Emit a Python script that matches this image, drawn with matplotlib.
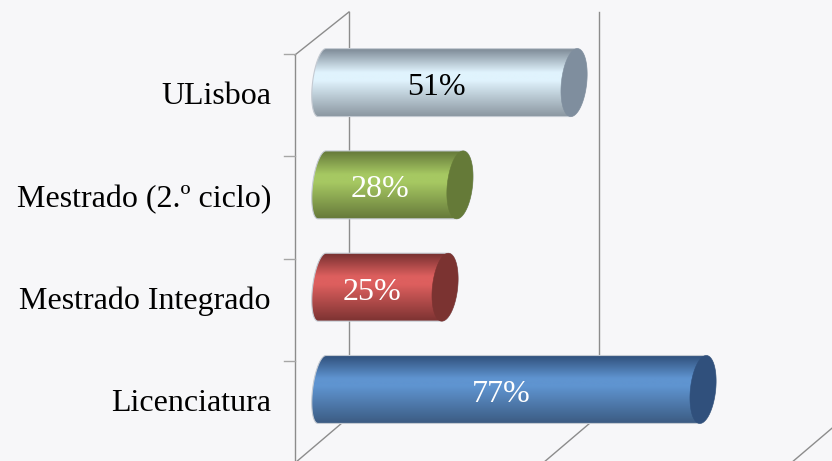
import numpy as np
import matplotlib
matplotlib.use('Agg')
import matplotlib.pyplot as plt
from matplotlib.colors import LinearSegmentedColormap
from matplotlib.patches import Polygon

categories = ['Licenciatura', 'Mestrado Integrado', 'Mestrado (2.º ciclo)', 'ULisboa']
values = [77, 25, 28, 51]
value_labels = ['77%', '25%', '28%', '51%']
label_colors = ['white', 'white', 'white', 'black']
wall_values = [0, 50.4]
floor_values = [0, 50, 100]

# top, bright band, bottom
body_colors = [
    ['#2f4f7a', '#5f94d0', '#3c5c83'],
    ['#763030', '#dd5f5e', '#7d3332'],
    ['#65793a', '#a6c862', '#66793a'],
    ['#7f8c98', '#e0f3fd', '#8a96a0'],
]
cap_colors = ['#30507c', '#7b3331', '#657a38', '#7f8e9e']

BG = '#f7f7f9'
SERIF = 'Liberation Serif'

fig = plt.figure(figsize=(8.32, 4.61), dpi=100, facecolor=BG)
ax = fig.add_axes([0, 0, 1, 1])
ax.set_facecolor(BG)
xlim = (-64.7, 103.0)
ylim = (-0.699, 3.807)
ax.axis('off')

# 3d box lines
dx_front, dx_back, dx_floor = -5.24, 5.64, 4.94
y_floor_front, y_floor_back = -0.718, -0.298
y_top_front, y_top_back = 3.27, 3.69

ax.plot([dx_front, dx_front], [y_floor_front, y_top_front], color='#8c8c8c', lw=1, zorder=1)
ax.plot([dx_front, dx_back], [y_top_front, y_top_back], color='#8c8c8c', lw=1, zorder=1)
for g in wall_values:
    ax.plot([g + dx_back, g + dx_back], [y_floor_back, y_top_back], color='#8c8c8c', lw=1, zorder=1)
for g in floor_values:
    ax.plot([g + dx_front, g + dx_floor], [y_floor_front, y_floor_back], color='#8c8c8c', lw=1, zorder=1)
for i in range(4):
    ax.plot([-7.46, dx_front], [i + 0.279, i + 0.279], color='#a6a6a6', lw=1, zorder=1)

half_h = 0.332
t = np.linspace(0, 2 * np.pi, 121)


def ellipse(cx, cy, a, s, tt):
    return cx + a * np.cos(tt) + s * np.sin(tt), cy + half_h * np.sin(tt)


for i, v in enumerate(values):
    # left end is flatter than the visible cap on the right
    tl = np.linspace(-np.pi / 2, -3 * np.pi / 2, 40)
    lx, ly = ellipse(0.2, i, 1.9, 0.8, tl)
    tr = np.linspace(np.pi / 2, -np.pi / 2, 40)
    rx, ry = ellipse(v, i, 2.55, 0.65, tr)
    body = Polygon(np.column_stack([np.r_[lx, rx], np.r_[ly, ry]]),
                   closed=True, facecolor='none', edgecolor='#c4cad2', lw=0.8, zorder=4)
    ax.add_patch(body)

    cmap = LinearSegmentedColormap.from_list(
        'bar', [(0, body_colors[i][0]), (0.34, body_colors[i][1]), (0.46, body_colors[i][1]),
                (1, body_colors[i][2])])
    grad = np.linspace(0, 1, 128).reshape(-1, 1)
    im = ax.imshow(grad, cmap=cmap, aspect='auto', origin='upper', zorder=3,
                   extent=(-3, v + 4, i - half_h, i + half_h))
    im.set_clip_path(body)

    cx, cy = ellipse(v, i, 2.55, 0.65, t)
    ax.fill(cx, cy, color=cap_colors[i], zorder=5, lw=0.4)

    ax.text(v / 2 - 2.2, i - 0.05, value_labels[i], color=label_colors[i], family=SERIF,
            fontsize=23, ha='center', va='center', zorder=6)
    ax.text(-10.1, i - 0.14, categories[i], color='black', family=SERIF,
            fontsize=23, ha='right', va='center', zorder=6)

ax.set_xlim(xlim)
ax.set_ylim(ylim)

fig.savefig('out.png', dpi=100, facecolor=BG)
